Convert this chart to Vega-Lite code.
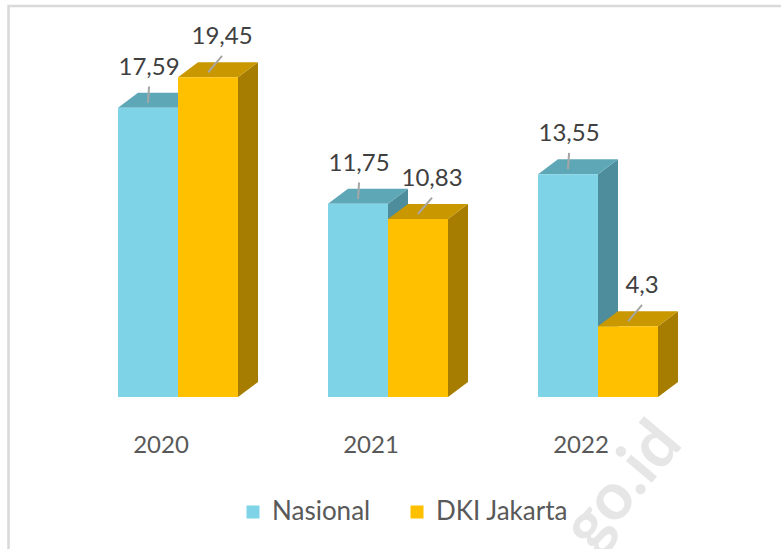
{
  "$schema": "https://vega.github.io/schema/vega-lite/v6.json",
  "width": 781,
  "height": 549,
  "padding": 0,
  "autosize": {"type": "none"},
  "background": "white",
  "config": {"view": {"stroke": null}, "axis": {"disable": true}},
  "data": {
    "values": [
      {"year": "2020", "series": "Nasional", "value": 17.59},
      {"year": "2020", "series": "DKI Jakarta", "value": 19.45},
      {"year": "2021", "series": "Nasional", "value": 11.75},
      {"year": "2021", "series": "DKI Jakarta", "value": 10.83},
      {"year": "2022", "series": "Nasional", "value": 13.55},
      {"year": "2022", "series": "DKI Jakarta", "value": 4.3}
    ]
  },
  "transform": [
    {"calculate": "indexof(['2020','2021','2022'], datum.year)", "as": "yi"},
    {"calculate": "datum.series === 'Nasional' ? 0 : 1", "as": "si"},
    {"calculate": "datum.yi + (datum.si - 1) * 0.285714", "as": "L"},
    {"calculate": "datum.L + 0.285714", "as": "R"},
    {"calculate": "(datum.L + datum.R) / 2", "as": "cx"},
    {"calculate": "datum.cx + (datum.si === 1 ? 0.067 : 0.005)", "as": "lx"},
    {"calculate": "datum.value + 2.43", "as": "ly"},
    {"calculate": "datum.value + 1.3", "as": "ry0"},
    {"calculate": "datum.value + 0.3", "as": "ry1"},
    {"calculate": "datum.yi - 0.081", "as": "yx"},
    {"calculate": "replace(toString(datum.value), '.', ',')", "as": "label"},
    {"calculate": "datum.year + '-' + datum.series", "as": "key"}
  ],
  "layer": [
    {
      "transform": [{"filter": "datum.yi === 0 && datum.si === 0"}],
      "mark": {"type": "text", "text": "go.id", "angle": -50, "font": "Lato", "fontWeight": "bold", "fontSize": 66, "color": "#e6e6e6", "align": "center", "baseline": "middle"},
      "encoding": {
        "x": {"datum": 2.119, "type": "quantitative", "scale": {"domain": [-0.847619, 2.871429], "nice": false, "zero": false}},
        "y": {"datum": -5.42, "type": "quantitative", "scale": {"domain": [-9.2457, 24.1484], "nice": false, "zero": false}}
      }
    },
    {
      "transform": [{"filter": "datum.yi === 0 && datum.si === 0"}],
      "mark": {"type": "rect", "fillOpacity": 0, "stroke": "#d9d9d9", "strokeWidth": 2.5},
      "encoding": {
        "x": {"datum": -0.80714, "type": "quantitative", "scale": {"domain": [-0.847619, 2.871429], "nice": false, "zero": false}},
        "x2": {"datum": 3.5},
        "y": {"datum": 23.783, "type": "quantitative", "scale": {"domain": [-9.2457, 24.1484], "nice": false, "zero": false}},
        "y2": {"datum": -12}
      }
    },
    {
      "transform": [
        {"calculate": "[0, 1]", "as": "k"},
        {"flatten": ["k"]},
        {"calculate": "datum.R + datum.k * 0.095238", "as": "sx"},
        {"calculate": "datum.k * 0.912", "as": "sy0"},
        {"calculate": "datum.value + datum.k * 0.912", "as": "sy1"}
      ],
      "mark": {"type": "area", "orient": "vertical", "interpolate": "linear"},
      "encoding": {
        "x": {"field": "sx", "type": "quantitative", "scale": {"domain": [-0.847619, 2.871429], "nice": false, "zero": false}},
        "y": {"field": "sy1", "type": "quantitative", "stack": null, "scale": {"domain": [-9.2457, 24.1484], "nice": false, "zero": false}},
        "y2": {"field": "sy0"},
        "detail": {"field": "key"},
        "color": {"condition": {"test": "datum.si === 0", "value": "#4e8d9b"}, "value": "#a67d00"}
      }
    },
    {
      "transform": [
        {"calculate": "[0, 1]", "as": "k"},
        {"flatten": ["k"]},
        {"calculate": "datum.L + datum.k * 0.095238", "as": "tx0"},
        {"calculate": "datum.R + datum.k * 0.095238", "as": "tx1"},
        {"calculate": "datum.value + datum.k * 0.912", "as": "ty"}
      ],
      "mark": {"type": "area", "orient": "horizontal", "interpolate": "linear"},
      "encoding": {
        "y": {"field": "ty", "type": "quantitative", "scale": {"domain": [-9.2457, 24.1484], "nice": false, "zero": false}},
        "x": {"field": "tx0", "type": "quantitative", "stack": null, "scale": {"domain": [-0.847619, 2.871429], "nice": false, "zero": false}},
        "x2": {"field": "tx1"},
        "detail": {"field": "key"},
        "color": {"condition": {"test": "datum.si === 0", "value": "#5ea7b7"}, "value": "#c99700"}
      }
    },
    {
      "mark": {"type": "rect"},
      "encoding": {
        "x": {"field": "L", "type": "quantitative", "scale": {"domain": [-0.847619, 2.871429], "nice": false, "zero": false}},
        "x2": {"field": "R"},
        "y": {"field": "value", "type": "quantitative", "scale": {"domain": [-9.2457, 24.1484], "nice": false, "zero": false}},
        "y2": {"datum": 0},
        "color": {
          "field": "series",
          "type": "nominal",
          "scale": {"domain": ["Nasional", "DKI Jakarta"], "range": ["#7fd3e7", "#ffc000"]},
          "legend": {
            "orient": "none",
            "legendX": 240,
            "legendY": 499,
            "direction": "horizontal",
            "title": null,
            "symbolType": "square",
            "symbolSize": 169,
            "symbolStrokeWidth": 0,
            "symbolOpacity": 1,
            "labelFont": "Lato",
            "labelFontSize": 26,
            "labelColor": "#595959",
            "labelOffset": 6,
            "columnPadding": 33
          }
        }
      }
    },
    {
      "mark": {"type": "rule", "color": "#a6a6a6", "strokeWidth": 2},
      "encoding": {
        "x": {"field": "lx", "type": "quantitative", "scale": {"domain": [-0.847619, 2.871429], "nice": false, "zero": false}},
        "x2": {"field": "cx"},
        "y": {"field": "ry0", "type": "quantitative", "scale": {"domain": [-9.2457, 24.1484], "nice": false, "zero": false}},
        "y2": {"field": "ry1"}
      }
    },
    {
      "mark": {"type": "text", "font": "Lato", "fontSize": 24, "color": "#404040", "align": "center", "baseline": "middle"},
      "encoding": {
        "x": {"field": "lx", "type": "quantitative", "scale": {"domain": [-0.847619, 2.871429], "nice": false, "zero": false}},
        "y": {"field": "ly", "type": "quantitative", "scale": {"domain": [-9.2457, 24.1484], "nice": false, "zero": false}},
        "text": {"field": "label"}
      }
    },
    {
      "transform": [{"filter": "datum.si === 0"}],
      "mark": {"type": "text", "font": "Lato", "fontSize": 24, "color": "#595959", "align": "center", "baseline": "middle"},
      "encoding": {
        "x": {"field": "yx", "type": "quantitative", "scale": {"domain": [-0.847619, 2.871429], "nice": false, "zero": false}},
        "y": {"datum": -3.01, "type": "quantitative", "scale": {"domain": [-9.2457, 24.1484], "nice": false, "zero": false}},
        "text": {"field": "year"}
      }
    }
  ]
}
